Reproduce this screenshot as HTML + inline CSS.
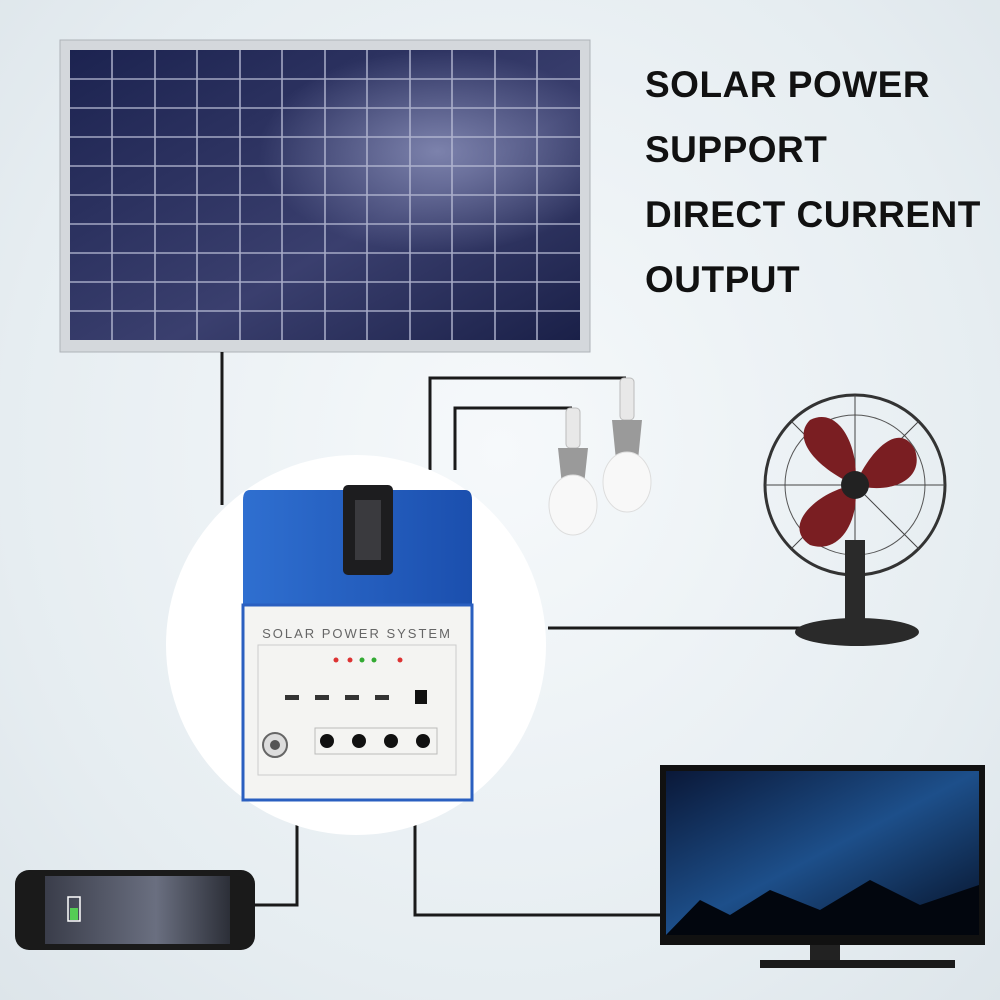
<!DOCTYPE html>
<html><head><meta charset="utf-8"><style>
html,body{margin:0;padding:0}
body{width:1000px;height:1000px;position:relative;overflow:hidden;background:radial-gradient(ellipse at 50% 45%,#f6f9fb 0%,#e6edf1 70%,#dde5ea 100%);font-family:"Liberation Sans",sans-serif}
.t{position:absolute;left:645px;font-weight:bold;font-size:37px;color:#111;letter-spacing:0.5px;line-height:1}
</style></head><body>
<svg width="1000" height="1000" style="position:absolute;left:0;top:0">
<defs>
<linearGradient id="pan" x1="0" y1="0" x2="1" y2="1"><stop offset="0" stop-color="#1c2350"/><stop offset="0.6" stop-color="#3a3f6e"/><stop offset="1" stop-color="#1a2048"/></linearGradient>
<radialGradient id="glow" cx="0.72" cy="0.35" r="0.35"><stop offset="0" stop-color="#9aa0c8" stop-opacity="0.7"/><stop offset="1" stop-color="#9aa0c8" stop-opacity="0"/></radialGradient>
<linearGradient id="blue" x1="0" y1="0" x2="1" y2="0"><stop offset="0" stop-color="#2f6fd0"/><stop offset="1" stop-color="#1b4fae"/></linearGradient>
<linearGradient id="tv" x1="0" y1="0" x2="1" y2="1"><stop offset="0" stop-color="#0a1838"/><stop offset="0.5" stop-color="#1d4f8a"/><stop offset="1" stop-color="#061025"/></linearGradient>
<linearGradient id="ph" x1="0" y1="0" x2="1" y2="0"><stop offset="0" stop-color="#3a3d4a"/><stop offset="0.6" stop-color="#6a6f80"/><stop offset="1" stop-color="#2c2f38"/></linearGradient>
</defs>
<!-- panel -->
<rect x="60" y="40" width="530" height="312" fill="#d4d8dc" stroke="#aeb3b8"/>
<rect x="70" y="50" width="510" height="290" fill="url(#pan)"/>
<rect x="70" y="50" width="510" height="290" fill="url(#glow)"/>
<g stroke="#b9bdd6" stroke-width="1.6" opacity="0.85">
<line x1="112" y1="50" x2="112" y2="340"/><line x1="155" y1="50" x2="155" y2="340"/><line x1="197" y1="50" x2="197" y2="340"/><line x1="240" y1="50" x2="240" y2="340"/><line x1="282" y1="50" x2="282" y2="340"/><line x1="325" y1="50" x2="325" y2="340"/><line x1="367" y1="50" x2="367" y2="340"/><line x1="410" y1="50" x2="410" y2="340"/><line x1="452" y1="50" x2="452" y2="340"/><line x1="495" y1="50" x2="495" y2="340"/><line x1="537" y1="50" x2="537" y2="340"/>
<line x1="70" y1="79" x2="580" y2="79"/><line x1="70" y1="108" x2="580" y2="108"/><line x1="70" y1="137" x2="580" y2="137"/><line x1="70" y1="166" x2="580" y2="166"/><line x1="70" y1="195" x2="580" y2="195"/><line x1="70" y1="224" x2="580" y2="224"/><line x1="70" y1="253" x2="580" y2="253"/><line x1="70" y1="282" x2="580" y2="282"/><line x1="70" y1="311" x2="580" y2="311"/>
</g>
<!-- wires -->
<g stroke="#1a1a1a" stroke-width="3" fill="none">
<path d="M222 352 V505"/>
<path d="M430 470 V378 H626"/>
<path d="M455 470 V408 H572"/>
<path d="M548 628 H800"/>
<path d="M297 820 V905 H255"/>
<path d="M415 820 V915 H662"/>
</g>
<!-- circle -->
<circle cx="356" cy="645" r="190" fill="#fff"/>
<!-- box -->
<path d="M250 490 H465 Q472 490 472 500 V605 H243 V500 Q243 490 250 490Z" fill="url(#blue)"/>
<rect x="243" y="605" width="229" height="195" fill="#f4f4f2" stroke="#2a5fc0" stroke-width="3"/>
<rect x="343" y="485" width="50" height="90" rx="5" fill="#1d1d1f"/>
<rect x="355" y="500" width="26" height="60" fill="#3a3a3e"/>
<text x="357" y="638" font-size="13" text-anchor="middle" fill="#666" letter-spacing="2">SOLAR POWER SYSTEM</text>
<rect x="258" y="645" width="198" height="130" fill="none" stroke="#ccc"/>
<circle cx="336" cy="660" r="2.5" fill="#d33"/><circle cx="350" cy="660" r="2.5" fill="#d33"/><circle cx="362" cy="660" r="2.5" fill="#3a3"/><circle cx="374" cy="660" r="2.5" fill="#3a3"/><circle cx="400" cy="660" r="2.5" fill="#d33"/>
<g fill="#333"><rect x="285" y="695" width="14" height="5"/><rect x="315" y="695" width="14" height="5"/><rect x="345" y="695" width="14" height="5"/><rect x="375" y="695" width="14" height="5"/></g>
<rect x="415" y="690" width="12" height="14" fill="#111"/>
<circle cx="275" cy="745" r="12" fill="#ddd" stroke="#666" stroke-width="2"/><circle cx="275" cy="745" r="5" fill="#555"/>
<g fill="#111"><circle cx="327" cy="741" r="7"/><circle cx="359" cy="741" r="7"/><circle cx="391" cy="741" r="7"/><circle cx="423" cy="741" r="7"/></g>
<rect x="315" y="728" width="122" height="26" fill="none" stroke="#bbb"/>
<!-- bulbs -->
<g><rect x="566" y="408" width="14" height="40" rx="4" fill="#e8e8e8" stroke="#bbb"/><path d="M558 448 H588 L584 485 H562Z" fill="#9a9a9a"/><ellipse cx="573" cy="505" rx="24" ry="30" fill="#f8f8f8" stroke="#ddd"/>
<rect x="620" y="378" width="14" height="42" rx="4" fill="#e8e8e8" stroke="#bbb"/><path d="M612 420 H642 L638 460 H616Z" fill="#9a9a9a"/><ellipse cx="627" cy="482" rx="24" ry="30" fill="#f8f8f8" stroke="#ddd"/></g>
<!-- fan -->
<circle cx="855" cy="485" r="90" fill="none" stroke="#333" stroke-width="3"/>
<circle cx="855" cy="485" r="70" fill="none" stroke="#555" stroke-width="1"/>
<g stroke="#444" stroke-width="1"><line x1="765" y1="485" x2="945" y2="485"/><line x1="855" y1="395" x2="855" y2="575"/><line x1="791" y1="421" x2="919" y2="549"/><line x1="919" y1="421" x2="791" y2="549"/></g>
<path d="M855 485 C820 470 790 440 810 420 C840 405 860 450 855 485Z" fill="#7a1e22"/>
<path d="M855 485 C870 450 900 420 915 450 C925 480 890 495 855 485Z" fill="#7a1e22"/>
<path d="M855 485 C860 520 840 555 810 545 C780 525 820 490 855 485Z" fill="#7a1e22"/>
<circle cx="855" cy="485" r="14" fill="#222"/>
<rect x="845" y="540" width="20" height="85" fill="#2a2a2a"/>
<ellipse cx="857" cy="632" rx="62" ry="14" fill="#2a2a2a"/>
<!-- tv -->
<rect x="660" y="765" width="325" height="180" fill="#111"/>
<rect x="666" y="771" width="313" height="164" fill="url(#tv)"/>
<path d="M666 935 L700 900 L730 915 L770 890 L820 910 L870 880 L920 905 L979 885 V935Z" fill="#02060e"/>
<rect x="810" y="945" width="30" height="15" fill="#222"/>
<rect x="760" y="960" width="195" height="8" fill="#1a1a1a"/>
<!-- phone -->
<rect x="15" y="870" width="240" height="80" rx="14" fill="#1a1a1a"/>
<rect x="45" y="876" width="185" height="68" fill="url(#ph)"/>
<rect x="68" y="897" width="12" height="24" fill="none" stroke="#fff" stroke-width="1.5"/><rect x="70" y="908" width="8" height="12" fill="#5c5"/>
</svg>
<div class="t" style="top:66px">SOLAR POWER</div>
<div class="t" style="top:131px">SUPPORT</div>
<div class="t" style="top:196px">DIRECT CURRENT</div>
<div class="t" style="top:261px">OUTPUT</div>
</body></html>
